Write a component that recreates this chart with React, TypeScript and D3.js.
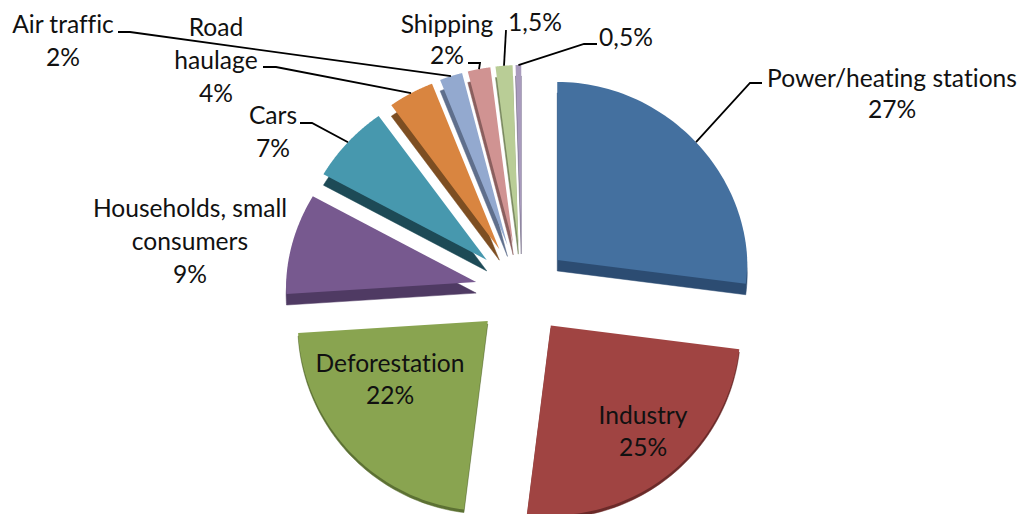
import React from "react";
import * as d3 from "d3";

// Shares of CO2-equivalent emissions by source, in percent.
const sources = [
  "Power/heating stations",
  "Industry",
  "Deforestation",
  "Households, small consumers",
  "Cars",
  "Road haulage",
  "Air traffic",
  "Shipping",
  "1,5%",
  "0,5%",
];
const shares = [27, 25, 22, 9, 7, 4, 2, 2, 1.5, 0.5];
const faceColors = [
  "#44709f", "#a04442", "#89a450", "#77598f", "#4798ae",
  "#d98540", "#93a9cf", "#d09392", "#b9cd96", "#a99bbd",
];
const rimColors = [
  "#2c4c72", "#6b2a29", "#5c7133", "#4f3a63", "#1d4a56",
  "#7d4e22", "#5f6f8c", "#8a5f5e", "#7b8a61", "#6f6680",
];

// Text blocks: [source index, centre x, first baseline, line step, lines].
const labelBlocks: [number, number, number, number, string[]][] = [
  [0, 892, 87, 31, ["Power/heating stations", "27%"]],
  [1, 643, 424, 32, ["Industry", "25%"]],
  [2, 390, 372, 32, ["Deforestation", "22%"]],
  [3, 190, 217, 33, ["Households, small", "consumers", "9%"]],
  [4, 273, 124, 33, ["Cars", "7%"]],
  [5, 216, 36, 33, ["Road", "haulage", "4%"]],
  [6, 63, 33, 33, ["Air traffic", "2%"]],
  [7, 447, 33, 31, ["Shipping", "2%"]],
  [8, 535, 31, 0, ["1,5%"]],
  [9, 626, 46, 0, ["0,5%"]],
];

// Leader lines run from the slice rim through these two points to the text.
const leaders: [number, [number, number], [number, number]][] = [
  [0, [750, 83], [762, 83]],
  [4, [312, 123], [300, 123]],
  [5, [276, 67], [263, 67]],
  [6, [130, 32], [118, 32]],
  [7, [480, 63], [468, 63]],
  [8, [506, 30], [506, 30]],
  [9, [584, 44], [597, 44]],
];

const WIDTH = 1024;
const HEIGHT = 514;
const CX = 522;
const CY = 293;
const RX = 190;
const RX_TAPER = 0.04;
const RY_BACK = 178;
const RY_FRONT = 190;
const EXPLODE_X = 47;
const EXPLODE_Y_BACK = 50;
const EXPLODE_Y_FRONT = 41;

// Tilted-disc projection: theta runs clockwise from twelve o'clock,
// and the far side of the disc narrows slightly with distance.
const project = (theta: number, r: number): [number, number] => {
  const c = Math.cos(theta);
  const rx = RX * (1 - RX_TAPER * Math.max(c, 0));
  return [Math.sin(theta) * r * rx, -c * r * (c > 0 ? RY_BACK : RY_FRONT)];
};

const pie = d3.pie<number>().sort(null).value((d) => d);
const arcs = pie(shares);

const outline = d3.line().curve(d3.curveLinear);

function sliceGeometry(a: d3.PieArcDatum<number>) {
  const mid = (a.startAngle + a.endAngle) / 2;
  const c = Math.cos(mid);
  const apexX = CX + Math.sin(mid) * EXPLODE_X;
  const apexY = CY - c * (c > 0 ? EXPLODE_Y_BACK : EXPLODE_Y_FRONT);
  const thetas = d3.range(0, 61).map((i) => a.startAngle + ((a.endAngle - a.startAngle) * i) / 60);
  const rimPts = thetas.map((t) => {
    const [x, y] = project(t, 1);
    return [apexX + x, apexY + y] as [number, number];
  });
  const face = outline([[apexX, apexY], ...rimPts, [apexX, apexY]]) + "Z";
  const depth = c > 0 ? 11 : 3;
  const [mx, my] = project(mid, 1);
  return { face, depth, anchor: [apexX + mx, apexY + my] as [number, number] };
}

export default function App() {
  const slices = arcs.map(sliceGeometry);
  const leaderPath = d3.line();
  return (
    <svg
      width={WIDTH}
      height={HEIGHT}
      viewBox={`0 0 ${WIDTH} ${HEIGHT}`}
      style={{ position: "absolute", left: 0, top: 0, background: "#fff", fontVariantLigatures: "none" }}
      fontFamily="Lato, 'Open Sans', sans-serif"
      fontSize={24.6}
      fill="#111"
    >
      <title>{sources.join(", ")}</title>
      {slices.map((s, i) => (
        <g key={sources[i]}>
          <path d={s.face} transform={`translate(0,${s.depth})`} fill={rimColors[i]} stroke={rimColors[i]} strokeWidth={0.5} />
          <path d={s.face} fill={faceColors[i]} />
        </g>
      ))}
      {leaders.map(([i, bend, end]) => (
        <path
          key={i}
          d={leaderPath([slices[i].anchor, bend, end]) ?? ""}
          fill="none"
          stroke="#000"
          strokeWidth={1.8}
        />
      ))}
      {labelBlocks.map(([i, x, y, step, lines]) => (
        <text key={i} textAnchor="middle">
          {lines.map((ln, j) => (
            <tspan key={j} x={x} y={y + j * step}>
              {ln}
            </tspan>
          ))}
        </text>
      ))}
    </svg>
  );
}
